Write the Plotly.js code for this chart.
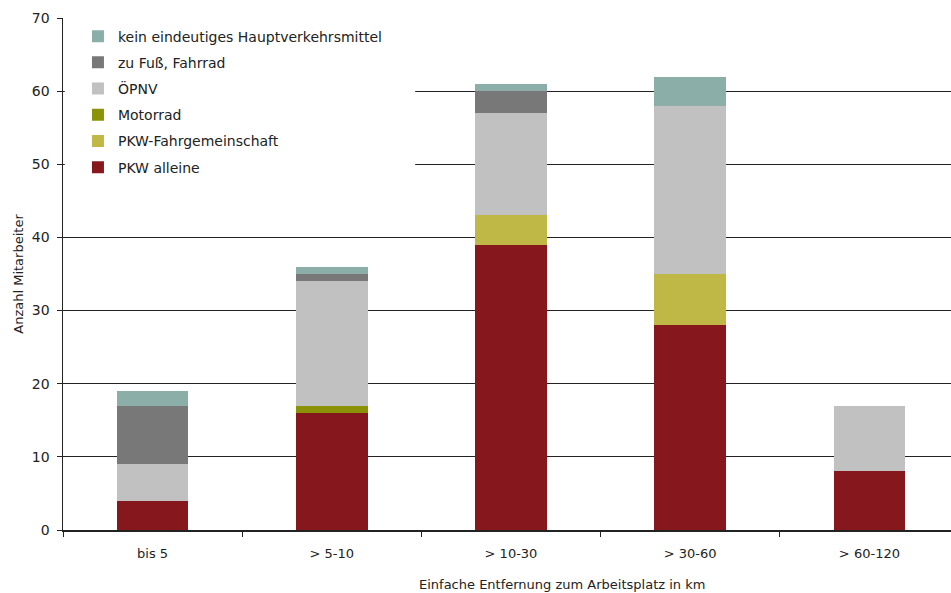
<!DOCTYPE html>
<html>
<head>
<meta charset="utf-8">
<script src="https://cdn.plot.ly/plotly-3.0.1.min.js"></script>
<style>
html,body{margin:0;padding:0;overflow:hidden;background:#fff;}
#chart{width:960px;height:593px;}
</style>
</head>
<body>
<div id="chart"></div>
<script>
const categories = ["bis 5", "> 5-10", "> 10-30", "> 30-60", "> 60-120"];
const pkwAlleine = [4, 16, 39, 28, 8];
const pkwFahrgemeinschaft = [0, 0, 4, 7, 0];
const motorrad = [0, 1, 0, 0, 0];
const oepnv = [5, 17, 14, 23, 9];
const zuFussFahrrad = [8, 1, 3, 0, 0];
const keinEindeutiges = [2, 1, 1, 4, 0];
const yTicks = [0, 10, 20, 30, 40, 50, 60, 70];

const seriesNames = ["PKW alleine", "PKW-Fahrgemeinschaft", "Motorrad", "ÖPNV", "zu Fuß, Fahrrad", "kein eindeutiges Hauptverkehrsmittel"];
const seriesValues = [pkwAlleine, pkwFahrgemeinschaft, motorrad, oepnv, zuFussFahrrad, keinEindeutiges];
const seriesColors = ["#86181d", "#c0b846", "#8c9208", "#c1c1c1", "#787878", "#8baea8"];

const traces = seriesNames.map((n, i) => ({
  type: "bar",
  name: n,
  x: categories,
  y: seriesValues[i],
  legendgroup: "g" + i,
  legendrank: seriesNames.length - i,
  marker: {color: seriesColors[i], line: {width: 0}},
  hoverinfo: "name+y"
}));

const font = "'DejaVu Sans', 'Noto Sans', sans-serif";
const layout = {
  width: 960,
  height: 593,
  margin: {l: 63, r: 1, t: 18, b: 63},
  paper_bgcolor: "#fff",
  plot_bgcolor: "#fff",
  barmode: "stack",
  bargap: 0.6,
  font: {family: font, color: "#222", size: 13},
  showlegend: true,
  legend: {
    x: 0.0167, xanchor: "left",
    y: 0.995, yanchor: "top",
    bgcolor: "rgba(0,0,0,0)",
    borderwidth: 0,
    traceorder: "grouped",
    tracegroupgap: 5,
    font: {family: font, size: 14, color: "#222"}
  },
  shapes: [{
    type: "rect", layer: "above",
    xref: "paper", yref: "paper",
    x0: 0.002, x1: 0.393, y0: 0.684, y1: 0.986,
    fillcolor: "#ffffff", line: {width: 0}
  }],
  xaxis: {
    type: "category",
    tickson: "boundaries",
    ticks: "outside",
    ticklen: 5,
    tickcolor: "#222",
    showline: true,
    linecolor: "#222",
    linewidth: 1.5,
    showgrid: false,
    tickfont: {family: font, size: 13, color: "#222"},
    ticklabelstandoff: 11,
    fixedrange: true
  },
  yaxis: {
    range: [0, 70],
    tickvals: yTicks,
    ticks: "outside",
    ticklen: 5,
    tickcolor: "#222",
    showline: true,
    linecolor: "#222",
    linewidth: 1.5,
    showgrid: true,
    gridcolor: "#222",
    gridwidth: 1,
    zeroline: false,
    tickfont: {family: font, size: 14, color: "#222"},
    ticklabelstandoff: 4,
    title: {text: "Anzahl Mitarbeiter", font: {family: font, size: 13, color: "#222"}, standoff: 5},
    fixedrange: true
  },
  annotations: [{
    text: "Einfache Entfernung zum Arbeitsplatz in km",
    xref: "paper", yref: "paper",
    x: 0.557, y: -0.107,
    xanchor: "center", yanchor: "middle",
    showarrow: false,
    font: {family: font, size: 13, color: "#222"}
  }]
};

Plotly.newPlot("chart", traces, layout, {displayModeBar: false, staticPlot: true});
</script>
</body>
</html>
